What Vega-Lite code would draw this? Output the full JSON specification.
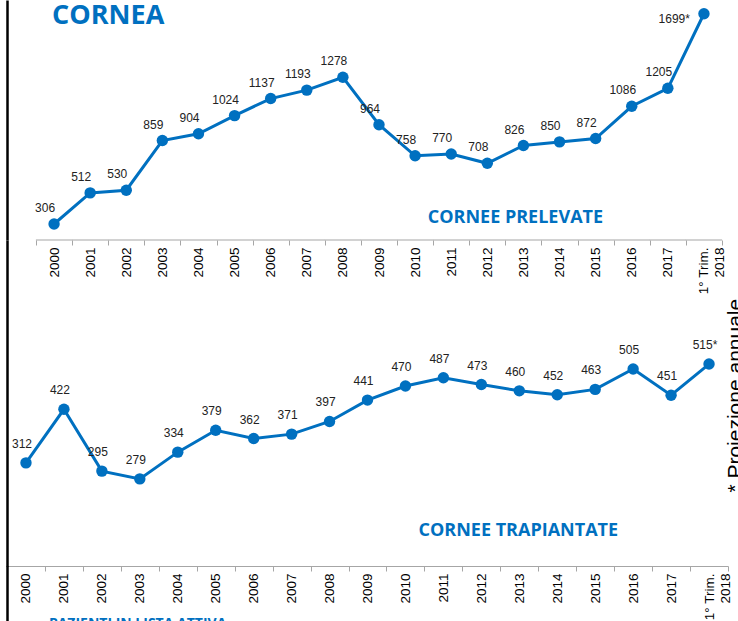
{
  "$schema": "https://vega.github.io/schema/vega-lite/v6.json",
  "padding": {"left": 0, "top": 0, "right": 0, "bottom": 0},
  "background": "white",
  "bounds": "flush",
  "spacing": 0,
  "config": {
    "view": {"stroke": null},
    "axis": {"grid": false, "title": null},
    "text": {"font": "Liberation Sans"}
  },
  "datasets": {
    "prelevate": [
      {"year": "2000", "value": 306, "label": "306"},
      {"year": "2001", "value": 512, "label": "512"},
      {"year": "2002", "value": 530, "label": "530"},
      {"year": "2003", "value": 859, "label": "859"},
      {"year": "2004", "value": 904, "label": "904"},
      {"year": "2005", "value": 1024, "label": "1024"},
      {"year": "2006", "value": 1137, "label": "1137"},
      {"year": "2007", "value": 1193, "label": "1193"},
      {"year": "2008", "value": 1278, "label": "1278"},
      {"year": "2009", "value": 964, "label": "964"},
      {"year": "2010", "value": 758, "label": "758"},
      {"year": "2011", "value": 770, "label": "770"},
      {"year": "2012", "value": 708, "label": "708"},
      {"year": "2013", "value": 826, "label": "826"},
      {"year": "2014", "value": 850, "label": "850"},
      {"year": "2015", "value": 872, "label": "872"},
      {"year": "2016", "value": 1086, "label": "1086"},
      {"year": "2017", "value": 1205, "label": "1205"},
      {"year": "1° Trim. 2018", "value": 1699, "label": "1699*"}
    ],
    "trapiantate": [
      {"year": "2000", "value": 312, "label": "312"},
      {"year": "2001", "value": 422, "label": "422"},
      {"year": "2002", "value": 295, "label": "295"},
      {"year": "2003", "value": 279, "label": "279"},
      {"year": "2004", "value": 334, "label": "334"},
      {"year": "2005", "value": 379, "label": "379"},
      {"year": "2006", "value": 362, "label": "362"},
      {"year": "2007", "value": 371, "label": "371"},
      {"year": "2008", "value": 397, "label": "397"},
      {"year": "2009", "value": 441, "label": "441"},
      {"year": "2010", "value": 470, "label": "470"},
      {"year": "2011", "value": 487, "label": "487"},
      {"year": "2012", "value": 473, "label": "473"},
      {"year": "2013", "value": 460, "label": "460"},
      {"year": "2014", "value": 452, "label": "452"},
      {"year": "2015", "value": 463, "label": "463"},
      {"year": "2016", "value": 505, "label": "505"},
      {"year": "2017", "value": 451, "label": "451"},
      {"year": "1° Trim. 2018", "value": 515, "label": "515*"}
    ]
  },
  "vconcat": [
    {
      "width": 721,
      "height": 240,
      "data": {"name": "prelevate"},
      "encoding": {
        "x": {
          "field": "year", "type": "nominal", "sort": null,
          "scale": {"type": "band", "paddingInner": 0, "paddingOuter": 0.4847, "align": 0.8286,
            "domain": ["2000","2001","2002","2003","2004","2005","2006","2007","2008","2009","2010","2011","2012","2013","2014","2015","2016","2017","1° Trim. 2018"]},
          "axis": {"domain": false, "labelAngle": -90, "tickBand": "extent", "tickSize": 5, "tickColor": "#A6A6A6", "labelPadding": 2,
            "labelFont": "Liberation Sans", "labelFontSize": 13.5, "labelColor": "#000", "labelLineHeight": 16,
            "labelExpr": "datum.value == '1° Trim. 2018' ? ['1° Trim.', '2018'] : datum.label"}
        },
        "y": {
          "field": "value", "type": "quantitative",
          "scale": {"domain": [200, 1790], "nice": false, "zero": false},
          "axis": {"domain": true, "domainColor": "#000", "domainWidth": 2.5, "labels": false, "ticks": false}
        }
      },
      "layer": [
        {
          "mark": {"type": "tick", "orient": "horizontal", "size": 36.3, "thickness": 1, "color": "#A6A6A6", "opacity": 1},
          "encoding": {"y": {"datum": 200}}
        },
        {"mark": {"type": "line", "color": "#0070C0", "strokeWidth": 3}},
        {"mark": {"type": "point", "filled": true, "opacity": 1, "size": 130, "color": "#0070C0"}},
        {
          "transform": [{"filter": "indexof(datum.label, '*') < 0"}],
          "mark": {"type": "text", "dx": -9, "dy": -16, "fontSize": 12, "color": "#222", "baseline": "middle"},
          "encoding": {"text": {"field": "label"}}
        },
        {
          "transform": [{"filter": "indexof(datum.label, '*') >= 0"}],
          "mark": {"type": "text", "align": "right", "dx": -14, "dy": 5, "fontSize": 12, "color": "#222", "baseline": "middle"},
          "encoding": {"text": {"field": "label"}}
        },
        {
          "transform": [{"filter": "datum.year == '2000'"}],
          "mark": {"type": "text", "text": "CORNEA", "font": "Open Sans", "fontWeight": "bold", "fontSize": 27, "color": "#0070C0", "align": "left", "baseline": "middle", "dx": -2},
          "encoding": {"y": {"datum": 1687}}
        },
        {
          "transform": [{"filter": "datum.year == '2013'"}],
          "mark": {"type": "text", "text": "CORNEE PRELEVATE", "font": "Open Sans", "fontWeight": "bold", "fontSize": 18, "color": "#0070C0", "align": "center", "baseline": "middle", "dx": -8},
          "encoding": {"y": {"datum": 346}}
        }
      ]
    },
    {
      "width": 721,
      "height": 326,
      "data": {"name": "trapiantate"},
      "encoding": {
        "x": {
          "field": "year", "type": "nominal", "sort": null,
          "scale": {"type": "band", "paddingInner": 0, "paddingOuter": 0,
            "domain": ["2000","2001","2002","2003","2004","2005","2006","2007","2008","2009","2010","2011","2012","2013","2014","2015","2016","2017","1° Trim. 2018"]},
          "axis": {"domain": true, "domainColor": "#A6A6A6", "labelAngle": -90, "tickBand": "extent", "tickSize": 5, "tickColor": "#A6A6A6", "labelPadding": 2,
            "labelFont": "Liberation Sans", "labelFontSize": 13.5, "labelColor": "#000", "labelLineHeight": 16,
            "labelExpr": "datum.value == '1° Trim. 2018' ? ['1° Trim.', '2018'] : datum.label"}
        },
        "y": {
          "field": "value", "type": "quantitative",
          "scale": {"domain": [100, 770], "nice": false, "zero": false},
          "axis": {"domain": true, "domainColor": "#000", "domainWidth": 2.5, "labels": false, "ticks": false}
        }
      },
      "layer": [
        {
          "transform": [{"filter": "datum.year == '2000'"}],
          "mark": {"type": "rule", "color": "#000", "strokeWidth": 2.5, "xOffset": 0.5},
          "encoding": {"x": {"field": "year", "type": "nominal", "bandPosition": 0}, "y": {"datum": 100}, "y2": {"datum": -35}}
        },
        {"mark": {"type": "line", "color": "#0070C0", "strokeWidth": 3}},
        {"mark": {"type": "point", "filled": true, "opacity": 1, "size": 130, "color": "#0070C0"}},
        {
          "mark": {"type": "text", "dx": -4, "dy": -19, "fontSize": 12, "color": "#222", "baseline": "middle"},
          "encoding": {"text": {"field": "label"}}
        },
        {
          "transform": [{"filter": "datum.year == '2013'"}],
          "mark": {"type": "text", "text": "CORNEE TRAPIANTATE", "font": "Open Sans", "fontWeight": "bold", "fontSize": 18, "color": "#0070C0", "align": "center", "baseline": "middle", "dx": -1},
          "encoding": {"y": {"datum": 172}}
        },
        {
          "transform": [{"filter": "datum.year == '2001'"}],
          "mark": {"type": "text", "text": "PAZIENTI IN LISTA ATTIVA", "font": "Open Sans", "fontWeight": "bold", "fontSize": 14, "color": "#0070C0", "align": "left", "baseline": "alphabetic", "dx": -15},
          "encoding": {"y": {"datum": -27}}
        },
        {
          "transform": [{"filter": "datum.year == '1° Trim. 2018'"}],
          "mark": {"type": "text", "text": "* Proiezione annuale", "fontSize": 21, "color": "#000", "align": "center", "baseline": "alphabetic", "angle": 270, "dy": 33},
          "encoding": {"y": {"datum": 450}}
        }
      ]
    }
  ]
}
